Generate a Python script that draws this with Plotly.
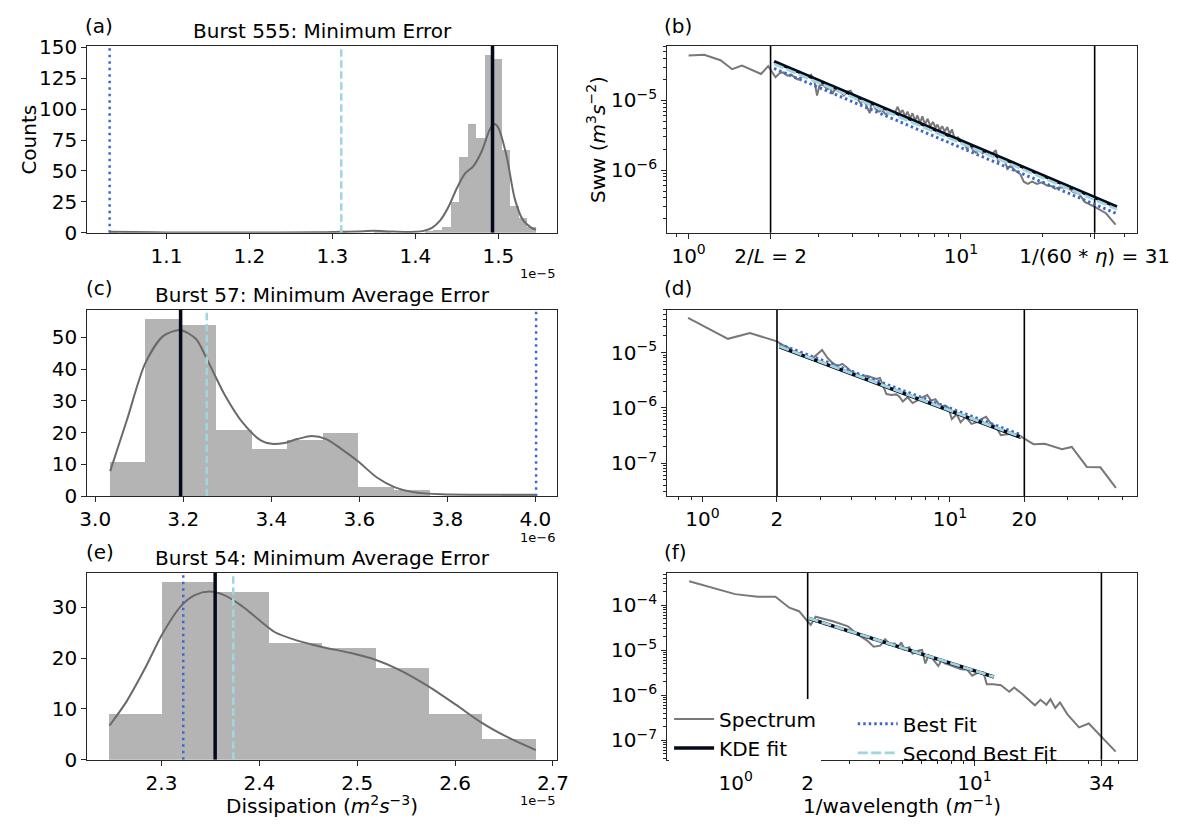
import plotly.graph_objects as go

W, H = 1194, 834
FONT = "DejaVu Sans"

# ---------------- Panel (a): Burst 555 histogram ----------------
a_bin_start = 1.0315e-5
a_bin_width = 0.01028e-5
a_counts = [1, 0, 0, 0, 0, 0, 0, 0, 0, 0,
            0, 0, 0, 0, 0, 0, 0, 0, 0, 0,
            0, 0, 0, 0, 0, 0, 0, 1, 0, 0,
            0, 1, 1, 0, 0, 0, 0, 1, 2, 5,
            25, 61, 88, 77, 144, 141, 67, 22, 12, 5]
a_kde_x = [1.0315, 1.06, 1.10, 1.20, 1.28, 1.31, 1.33, 1.35, 1.37, 1.39, 1.40, 1.41,
           1.42, 1.43, 1.44, 1.45, 1.46, 1.47, 1.48, 1.49, 1.495, 1.50, 1.51, 1.52,
           1.53, 1.54, 1.5455]
a_kde_y = [0.8, 0.5, 0.2, 0.1, 0.3, 0.8, 1.0, 1.6, 1.0, 0.6, 0.8, 1.5,
           4, 10, 21, 36, 48, 54, 66, 84, 88, 85, 62, 27,
           10, 4, 2.5]
a_kde_mode = 1.493e-5
a_best = 1.0315e-5
a_second = 1.3107e-5

# ---------------- Panel (c): Burst 57 histogram ----------------
c_bin_start = 3.0337e-6
c_bin_width = 0.0807e-6
c_counts = [11, 56, 54, 21, 15, 18, 20, 3, 2, 0, 0, 1]
c_kde_x = [3.034, 3.072, 3.114, 3.155, 3.194, 3.229, 3.253, 3.294, 3.336, 3.377, 3.401, 3.43,
           3.459, 3.492, 3.525, 3.558, 3.597, 3.640, 3.681, 3.722, 3.788, 3.87, 3.95, 4.0]
c_kde_y = [7.9, 24, 42, 50.5, 52.3, 49.5, 43.4, 32, 23, 17.5, 16.5, 16.8,
           18, 19, 18, 15, 11, 5.9, 2.8, 1.3, 0.6, 0.5, 0.5, 0.5]
c_kde_mode = 3.194e-6
c_best = 4.0016e-6
c_second = 3.2533e-6

# ---------------- Panel (e): Burst 54 histogram ----------------
e_bin_start = 2.2467e-5
e_bin_width = 0.0545e-5
e_counts = [9, 35, 33, 23, 22, 18, 9, 4]
e_kde_x = [2.2467, 2.264, 2.2826, 2.301, 2.3196, 2.334, 2.349, 2.364, 2.3826, 2.401, 2.416,
           2.438, 2.464, 2.4937, 2.5185, 2.5419, 2.5715, 2.6011, 2.627, 2.653, 2.6826]
e_kde_y = [6.7, 11.4, 17.8, 24.8, 30.2, 32.4, 33.1, 32.4, 30.2, 27.3, 25.1,
           23.5, 22.2, 21.0, 19.7, 17.8, 14.6, 10.8, 7.3, 4.5, 1.9]
e_kde_mode = 2.3548e-5
e_best = 2.3222e-5
e_second = 2.3733e-5

# ---------------- Panel (b): spectrum burst 555 ----------------
b_k = [1.0, 1.14, 1.31, 1.445, 1.57, 1.71, 1.845, 1.96, 2.085, 2.162, 2.223, 2.306, 2.384,
       2.465, 2.52, 2.592, 2.665, 2.74, 2.818, 2.897, 2.963, 3.02, 3.08, 3.148, 3.236, 3.31,
       3.377, 3.44, 3.52, 3.62, 3.72, 3.826, 3.935, 4.02, 4.1, 4.172, 4.29, 4.411, 4.535,
       4.625, 4.703, 4.863, 5.0, 5.14, 5.286, 5.435, 5.588, 5.746, 5.858, 5.99, 6.109, 6.246,
       6.369, 6.513, 6.641, 6.79, 6.925, 7.081, 7.22, 7.383, 7.55, 7.719, 7.893, 8.071, 8.207,
       8.369, 8.534, 8.725, 8.922, 9.098, 9.276, 9.484, 9.752, 10.03, 10.31, 10.54, 10.78,
       11.05, 11.36, 11.69, 12.02, 12.36, 12.71, 13.07, 13.44, 13.70, 14.09, 14.48, 14.81,
       15.23, 15.65, 16.10, 16.55, 17.02, 17.60, 18.25, 19.03, 19.84, 20.69, 21.57, 22.17,
       23.1, 24.7, 25.9, 27.2, 28.5, 31.0, 34.1, 37.0]
b_log10S = [-4.355, -4.346, -4.424, -4.553, -4.502, -4.562, -4.622, -4.507, -4.668, -4.608,
            -4.599, -4.645, -4.631, -4.677, -4.700, -4.664, -4.645, -4.664, -4.631, -4.724,
            -4.931, -4.793, -4.770, -4.793, -4.839, -4.816, -4.908, -4.839, -4.862, -4.885,
            -4.931, -4.876, -4.862, -4.931, -4.977, -4.977, -5.046, -5.000, -5.115, -5.184,
            -5.023, -5.124, -5.161, -5.138, -5.198, -5.184, -5.184, -5.161, -5.092, -5.184,
            -5.138, -5.230, -5.161, -5.263, -5.184, -5.290, -5.217, -5.323, -5.230, -5.346,
            -5.263, -5.369, -5.309, -5.392, -5.346, -5.429, -5.369, -5.447, -5.382, -5.484,
            -5.415, -5.553, -5.530, -5.585, -5.613, -5.705, -5.631, -5.705, -5.751, -5.714,
            -5.760, -5.724, -5.783, -5.760, -5.714, -5.876, -5.843, -5.862, -5.982, -5.935,
            -5.991, -6.028, -6.060, -6.166, -6.198, -6.166, -6.198, -6.175, -6.221, -6.230,
            -6.267, -6.247, -6.250, -6.316, -6.340, -6.456, -6.526, -6.619, -6.781]
b_fit_k = [2.06, 37.4]
b_fit_kde_log10 = [-4.442, -6.526]
b_fit_best_log10 = [-4.542, -6.626]
b_fit_second_log10 = [-4.477, -6.561]
b_lines = [2, 31]

# ---------------- Panel (d): spectrum burst 57 ----------------
d_k = [0.874, 1.267, 1.554, 2.0, 2.093, 2.191, 2.328, 2.512, 2.670, 2.795, 2.925, 3.043,
       3.204, 3.355, 3.511, 3.675, 3.846, 4.026, 4.215, 4.411, 4.617, 4.832, 5.058, 5.214,
       5.375, 5.540, 5.800, 6.070, 6.257, 6.450, 6.751, 7.067, 7.396, 7.742, 8.103, 8.404,
       8.743, 9.152, 9.579, 9.874, 10.18, 10.66, 11.05, 11.60, 12.22, 12.79, 13.39, 14.01,
       14.67, 15.35, 16.07, 17.07, 17.87, 18.99, 20.0, 21.78, 24.2, 28.4, 31.1, 35.8, 40.6,
       46.9]
d_log10S = [-4.372, -4.750, -4.645, -4.797, -4.855, -4.895, -4.971, -5.041, -5.087, -5.099,
            -5.012, -4.953, -5.099, -5.186, -5.244, -5.203, -5.273, -5.360, -5.390, -5.436,
            -5.419, -5.448, -5.477, -5.459, -5.610, -5.750, -5.767, -5.756, -5.797, -5.884,
            -5.808, -5.913, -5.866, -5.808, -5.767, -5.872, -5.843, -5.971, -5.959, -6.000,
            -6.203, -6.116, -6.262, -6.163, -6.291, -6.262, -6.203, -6.163, -6.291, -6.337,
            -6.494, -6.483, -6.465, -6.494, -6.552, -6.657, -6.649, -6.749, -6.708, -7.070,
            -7.076, -7.450]
d_fit_k = [2.05, 19.4]
d_fit_kde_log10 = [-4.895, -6.535]
d_fit_best_log10 = [-4.848, -6.488]
d_fit_second_log10 = [-4.888, -6.528]
d_lines = [2, 20]

# ---------------- Panel (f): spectrum burst 54 ----------------
f_k = [0.638, 0.993, 1.235, 1.466, 1.675, 1.84, 2.0, 2.06, 2.16, 2.57, 2.95, 3.24, 3.56,
       3.78, 4.03, 4.22, 4.42, 4.63, 4.78, 4.93, 5.08, 5.33, 5.5, 5.85, 6.03, 6.22, 6.42,
       6.62, 6.83, 7.05, 7.28, 7.5, 7.74, 8.24, 8.77, 9.33, 9.78, 10.24, 10.9, 11.25, 11.97,
       12.9, 13.98, 14.65, 15.85, 17.9, 18.9, 20.0, 20.8, 21.8, 22.8, 24.5, 27.4, 30.1,
       33.6, 39.0]
f_log10S = [-3.462, -3.749, -3.806, -3.806, -4.050, -4.129, -4.358, -4.430, -4.251, -4.358,
            -4.466, -4.645, -4.789, -4.918, -4.896, -4.753, -4.860, -4.846, -4.932, -4.824,
            -4.968, -4.932, -5.075, -5.004, -4.989, -5.290, -5.111, -5.161, -5.254, -5.348,
            -5.219, -5.290, -5.312, -5.362, -5.419, -5.434, -5.563, -5.505, -5.491, -5.756,
            -5.756, -5.778, -5.921, -5.828, -5.971, -6.223, -6.101, -6.209, -6.086, -6.281,
            -6.158, -6.424, -6.712, -6.626, -6.892, -7.252]
f_fit_k = [2.02, 12.05]
f_fit_kde_log10 = [-4.287, -5.591]
f_fit_best_log10 = [-4.293, -5.597]
f_fit_second_log10 = [-4.284, -5.588]
f_lines = [2, 34]

# ---------------- styles ----------------
BAR_C = "#b4b4b4"
KDE_C = "#6a6a6a"
SPEC_C = "#787878"
BLACK = "#05091a"
BLUE = "#3f68cf"
LBLUE = "#9fd6df"
AX_C = "#262626"


def px(x):
    return x / W


def py(y):
    return 1 - y / H


LEFT = [px(82), px(568)]
RIGHT = [px(682), px(1168)]
ROW1 = [py(228), py(36)]
ROW2 = [py(499), py(307)]
ROW3 = [py(770), py(578)]

fig = go.Figure()


def hist_panel(xa, ya, start, width, counts, kx, ky, scale, mode, best, second):
    centers = [start + width * (i + 0.5) for i in range(len(counts))]
    fig.add_trace(go.Bar(x=centers, y=counts, width=width, marker=dict(color=BAR_C, line=dict(width=0)),
                         xaxis=xa, yaxis=ya, showlegend=False, hoverinfo="skip"))
    fig.add_trace(go.Scatter(x=[v * scale for v in kx], y=ky, mode="lines",
                             line=dict(color=KDE_C, width=2, shape="spline", smoothing=0.8),
                             xaxis=xa, yaxis=ya, showlegend=False))
    fig.add_trace(go.Scatter(x=[best, best], y=[0, 1000], mode="lines",
                             line=dict(color=BLUE, width=2.5, dash="2.5px,4px"),
                             xaxis=xa, yaxis=ya, showlegend=False))
    fig.add_trace(go.Scatter(x=[second, second], y=[0, 1000], mode="lines",
                             line=dict(color=LBLUE, width=2.5, dash="7.5px,3.5px"),
                             xaxis=xa, yaxis=ya, showlegend=False))
    fig.add_trace(go.Scatter(x=[mode, mode], y=[0, 1000], mode="lines",
                             line=dict(color=BLACK, width=3.5),
                             xaxis=xa, yaxis=ya, showlegend=False))


def spec_panel(xa, ya, k, logS, lines, fk, kde, best, second, legend=False):
    fig.add_trace(go.Scatter(x=k, y=[10 ** v for v in logS], mode="lines",
                             line=dict(color=SPEC_C, width=2), xaxis=xa, yaxis=ya,
                             name="Spectrum", showlegend=legend, legend="legend"))
    for v in lines:
        fig.add_trace(go.Scatter(x=[v, v], y=[1e-9, 1e-2], mode="lines",
                                 line=dict(color="black", width=1.6), xaxis=xa, yaxis=ya,
                                 showlegend=False))
    fig.add_trace(go.Scatter(x=fk, y=[10 ** v for v in best], mode="lines",
                             line=dict(color=BLUE, width=3, dash="2.5px,3px"), xaxis=xa, yaxis=ya,
                             name="Best Fit", showlegend=legend, legend="legend2"))
    fig.add_trace(go.Scatter(x=fk, y=[10 ** v for v in kde], mode="lines",
                             line=dict(color=BLACK, width=3.5), xaxis=xa, yaxis=ya,
                             name="KDE fit", showlegend=legend, legend="legend"))
    fig.add_trace(go.Scatter(x=fk, y=[10 ** v for v in second], mode="lines",
                             line=dict(color=LBLUE, width=2.8, dash="10px,3.5px"), xaxis=xa, yaxis=ya,
                             name="Second Best Fit", showlegend=legend, legend="legend2"))


hist_panel("x", "y", a_bin_start, a_bin_width, a_counts, a_kde_x, a_kde_y, 1e-5, a_kde_mode, a_best, a_second)
spec_panel("x2", "y2", b_k, b_log10S, b_lines, b_fit_k, b_fit_kde_log10, b_fit_best_log10, b_fit_second_log10)
hist_panel("x3", "y3", c_bin_start, c_bin_width, c_counts, c_kde_x, c_kde_y, 1e-6, c_kde_mode, c_best, c_second)
spec_panel("x4", "y4", d_k, d_log10S, d_lines, d_fit_k, d_fit_kde_log10, d_fit_best_log10, d_fit_second_log10)
hist_panel("x5", "y5", e_bin_start, e_bin_width, e_counts, e_kde_x, e_kde_y, 1e-5, e_kde_mode, e_best, e_second)
spec_panel("x6", "y6", f_k, f_log10S, f_lines, f_fit_k, f_fit_kde_log10, f_fit_best_log10, f_fit_second_log10,
           legend=True)


def base_axis(domain, anchor):
    return dict(domain=domain, anchor=anchor, showline=True, mirror=True, linecolor=AX_C, linewidth=1,
                ticks="outside", ticklen=5, tickwidth=1, tickcolor=AX_C, showgrid=False, zeroline=False,
                tickfont=dict(family=FONT, size=20, color="black"), tickmode="array")


def lin_axis(domain, anchor, rng, vals, texts):
    d = base_axis(domain, anchor)
    d.update(range=rng, tickvals=vals, ticktext=texts)
    return d


def minor_vals(lo, hi):
    out = []
    for e in range(-9, 3):
        for m in range(2, 10):
            v = m * 10.0 ** e
            if lo <= v <= hi:
                out.append(v)
    return out


def log_axis(domain, anchor, rng, vals, texts):
    d = base_axis(domain, anchor)
    d.update(type="log", range=rng, tickvals=vals, ticktext=texts,
             minor=dict(tickmode="array", tickvals=minor_vals(10 ** rng[0], 10 ** rng[1]),
                        ticks="outside", ticklen=3, tickwidth=1, tickcolor=AX_C))
    return d


def sup(n):
    return "10<sup>" + str(n).replace("-", "−") + "</sup>"


a_ticks = [1.1e-5, 1.2e-5, 1.3e-5, 1.4e-5, 1.5e-5]
c_ticks = [3.0e-6, 3.2e-6, 3.4e-6, 3.6e-6, 3.8e-6, 4.0e-6]
e_ticks = [2.3e-5, 2.4e-5, 2.5e-5, 2.6e-5, 2.7e-5]

fig.update_layout(
    xaxis=lin_axis(LEFT, "y", [1.0045e-5, 1.5707e-5], a_ticks, ["1.1", "1.2", "1.3", "1.4", "1.5"]),
    yaxis=lin_axis(ROW1, "x", [0, 151.2], [0, 25, 50, 75, 100, 125, 150],
                   ["0", "25", "50", "75", "100", "125", "150"]),
    xaxis2=log_axis(RIGHT, "y2", [-0.0788, 1.6464], [1, 2, 10, 31],
                    [sup(0), "2/<i>L</i> = 2", sup(1), "1/(60 * <i>η</i>) = 31"]),
    yaxis2=log_axis(ROW1, "x2", [-6.898, -4.22], [1e-5, 1e-6], [sup(-5), sup(-6)]),
    xaxis3=lin_axis(LEFT, "y3", [2.9819e-6, 4.049e-6], c_ticks, ["3.0", "3.2", "3.4", "3.6", "3.8", "4.0"]),
    yaxis3=lin_axis(ROW2, "x3", [0, 58.8], [0, 10, 20, 30, 40, 50], ["0", "10", "20", "30", "40", "50"]),
    xaxis4=log_axis(RIGHT, "y4", [-0.143, 1.756], [1, 2, 10, 20], [sup(0), "2", sup(1), "20"]),
    yaxis4=log_axis(ROW2, "x4", [-7.60, -4.22], [1e-5, 1e-6, 1e-7], [sup(-5), sup(-6), sup(-7)]),
    xaxis5=lin_axis(LEFT, "y5", [2.2241e-5, 2.7041e-5], e_ticks, ["2.3", "2.4", "2.5", "2.6", "2.7"]),
    yaxis5=lin_axis(ROW3, "x5", [0, 36.75], [0, 10, 20, 30], ["0", "10", "20", "30"]),
    xaxis6=log_axis(RIGHT, "y6", [-0.2876, 1.680], [1, 2, 10, 34], [sup(0), "2", sup(1), "34"]),
    yaxis6=log_axis(ROW3, "x6", [-7.434, -3.28], [1e-4, 1e-5, 1e-6, 1e-7],
                    [sup(-4), sup(-5), sup(-6), sup(-7)]),
)

anns = []


def text(x, y, s, size=20, xanchor="center", yanchor="middle", angle=0):
    anns.append(dict(x=px(x), y=py(y), xref="paper", yref="paper", text=s, showarrow=False,
                     xanchor=xanchor, yanchor=yanchor, textangle=angle,
                     font=dict(family=FONT, size=size, color="black")))


# titles
text(325, 21, "Burst 555: Minimum Error")
text(325, 292, "Burst 57: Minimum Average Error")
text(325, 563, "Burst 54: Minimum Average Error")
# panel letters
for lab, x, y in [("(a)", 78, 15), ("(b)", 677, 15), ("(c)", 79, 285), ("(d)", 677, 285),
                  ("(e)", 79, 556), ("(f)", 677, 556)]:
    text(x, y, lab, xanchor="left")
# offset texts
text(568, 270, "1e−5", size=13, xanchor="right")
text(568, 541, "1e−6", size=13, xanchor="right")
text(568, 812, "1e−5", size=13, xanchor="right")
# axis labels
text(22, 132, "Counts", angle=-90)
text(609, 132, "Sww (<i>m</i><sup>3</sup><i>s</i><sup>−2</sup>)", angle=-90)
text(325, 817, "Dissipation (<i>m</i><sup>2</sup><i>s</i><sup>−3</sup>)")
text(925, 817, "1/wavelength (<i>m</i><sup>−1</sup>)")

fig.update_layout(
    annotations=anns,
    width=W, height=H, margin=dict(l=0, r=0, t=0, b=0),
    plot_bgcolor="white", paper_bgcolor="white",
    font=dict(family=FONT, size=20, color="black"),
    showlegend=True, bargap=0,
    legend=dict(x=px(684), y=py(708), xanchor="left", yanchor="top", bgcolor="white",
                borderwidth=0, font=dict(family=FONT, size=20), itemwidth=40, tracegroupgap=0),
    legend2=dict(x=px(874), y=py(713), xanchor="left", yanchor="top", bgcolor="rgba(0,0,0,0)",
                 borderwidth=0, font=dict(family=FONT, size=20), itemwidth=40, tracegroupgap=0),
)

fig.write_html("out.html")
